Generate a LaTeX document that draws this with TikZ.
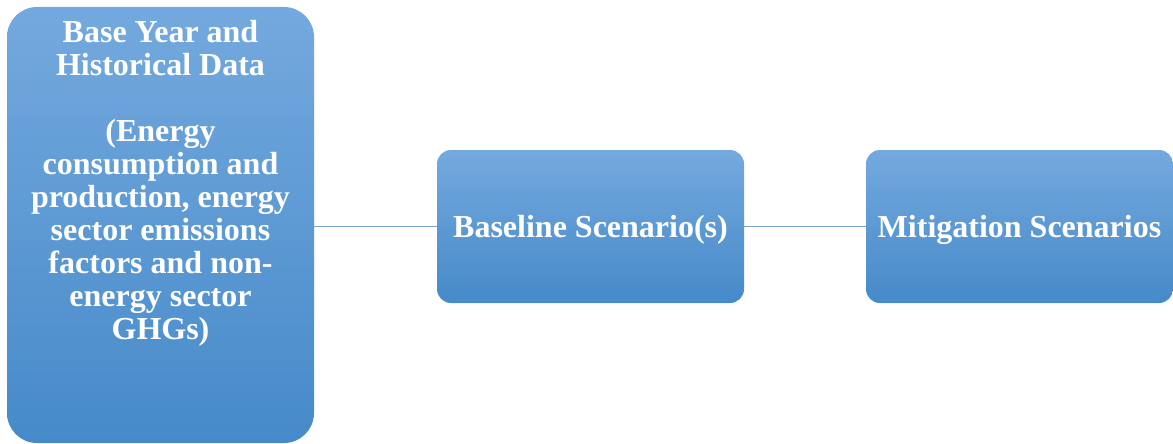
\documentclass[tikz,border=0pt]{standalone}
\usepackage{fontspec}
\setmainfont{Liberation Serif}
\definecolor{boxtop}{HTML}{74A9DE}
\definecolor{boxbot}{HTML}{468AC9}
\definecolor{linkcol}{HTML}{7BA5CF}
\begin{document}
\begin{tikzpicture}[x=1pt,y=-1pt,
  panel/.style={rectangle, rounded corners=#1, top color=boxtop, bottom color=boxbot,
    draw=none, inner sep=0pt, minimum width=307pt},
  label/.style={text=white, align=center, inner sep=0pt,
    font=\fontsize{32}{33}\selectfont\bfseries},
  oneline/.style={label, text height=21.5pt, text depth=0pt},
  link/.style={draw=linkcol, line width=1.6pt}]
  \useasboundingbox (0,0) rectangle (1173,444);

  % input data block (text anchored at the top)
  \node[panel=30pt, minimum height=436pt] (base) at (160.5,225) {};
  \node[label, anchor=north] (baseText) at (160.5,20.5)
    {Base Year and\\Historical Data\\[33pt](Energy\\consumption and\\production, energy\\sector emissions\\factors and non-\\energy sector\\GHGs)};

  % scenario blocks
  \node[panel=14pt, minimum height=153pt, oneline] (baseline) at (590.5,226.5) {Baseline Scenario(s)};
  \node[panel=14pt, minimum height=153pt, oneline] (mitig) at (1019.5,226.5) {Mitigation Scenarios};

  % connectors
  \draw[link] (baseline.west -| base.east) -- (baseline.west);
  \draw[link] (baseline.east) -- (mitig.west);
\end{tikzpicture}
\end{document}
